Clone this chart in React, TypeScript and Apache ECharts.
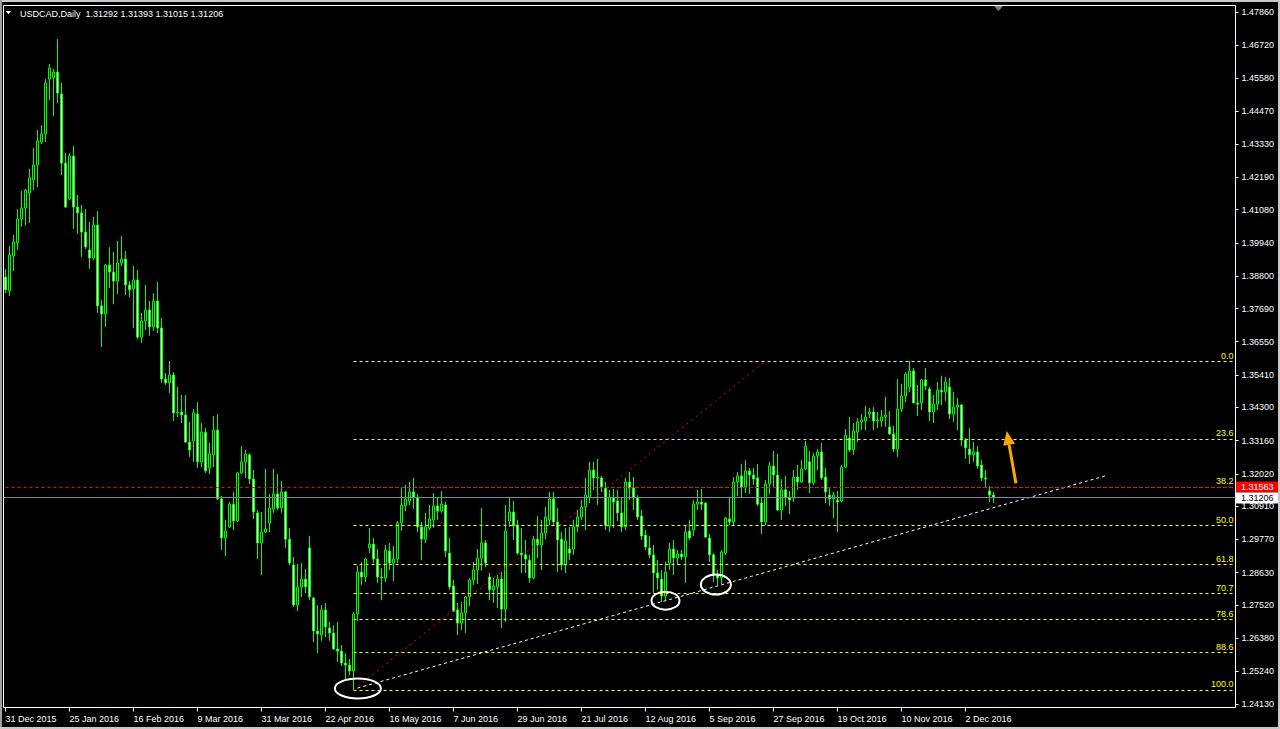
import React, { useEffect, useRef } from 'react';
import * as echarts from 'echarts';

// ---------- data ----------
const symbolTitle = 'USDCAD,Daily';

const xTickLabels = [
  '31 Dec 2015', '25 Jan 2016', '16 Feb 2016', '9 Mar 2016', '31 Mar 2016', '22 Apr 2016',
  '16 May 2016', '7 Jun 2016', '29 Jun 2016', '21 Jul 2016', '12 Aug 2016', '5 Sep 2016',
  '27 Sep 2016', '19 Oct 2016', '10 Nov 2016', '2 Dec 2016',
];
const barsPerTick = 16;

const yTickLabels = [
  '1.24130', '1.25240', '1.26380', '1.27520', '1.28630', '1.29770', '1.30910', '1.32020',
  '1.33160', '1.34300', '1.35410', '1.36550', '1.37690', '1.38800', '1.39940', '1.41080',
  '1.42190', '1.43330', '1.44470', '1.45580', '1.46720', '1.47860',
];

const opens = [
  1.3877, 1.3829, 1.3949, 1.3994, 1.4076, 1.4114, 1.4165, 1.4210, 1.4261, 1.4340,
  1.4368, 1.4556, 1.4560, 1.4580, 1.4505, 1.4268, 1.4145, 1.4292, 1.4117, 1.4097,
  1.4031, 1.3970, 1.3942, 1.4055, 1.3778, 1.3750, 1.3918, 1.3894, 1.3863, 1.3925,
  1.3939, 1.3850, 1.3836, 1.3867, 1.3671, 1.3726, 1.3764, 1.3706, 1.3795, 1.3702,
  1.3527, 1.3514, 1.3541, 1.3411, 1.3414, 1.3404, 1.3311, 1.3315, 1.3407, 1.3243,
  1.3345, 1.3222, 1.3267, 1.3352, 1.3116, 1.2982, 1.3020, 1.3098, 1.3040, 1.3205,
  1.3243, 1.3267, 1.3184, 1.3068, 1.2965, 1.3002, 1.3033, 1.3081, 1.3133, 1.3085,
  1.3140, 1.2978, 1.2889, 1.2752, 1.2814, 1.2841, 1.2948, 1.2776, 1.2663, 1.2649,
  1.2735, 1.2673, 1.2656, 1.2601, 1.2594, 1.2553, 1.2546, 1.2526, 1.2721, 1.2865,
  1.2848, 1.2948, 1.2961, 1.2910, 1.2848, 1.2845, 1.2937, 1.2896, 1.2910, 1.3033,
  1.3092, 1.3109, 1.3140, 1.3122, 1.3020, 1.2978, 1.3016, 1.3044, 1.3092, 1.3074,
  1.3095, 1.2930, 1.2817, 1.2735, 1.2690, 1.2725, 1.2780, 1.2838, 1.2872, 1.2913,
  1.2965, 1.2848, 1.2804, 1.2814, 1.2841, 1.2738, 1.3040, 1.3071, 1.3026, 1.2930,
  1.2924, 1.2906, 1.2845, 1.2978, 1.2958, 1.2999, 1.3044, 1.3116, 1.3037, 1.2978,
  1.2889, 1.2944, 1.2944, 1.3020, 1.3054, 1.3088, 1.3122, 1.3215, 1.3188, 1.3188,
  1.3153, 1.3023, 1.3122, 1.3109, 1.3068, 1.3020, 1.3174, 1.3153, 1.3119, 1.3057,
  1.2992, 1.2948, 1.2924, 1.2862, 1.2841, 1.2783, 1.2896, 1.2944, 1.2913, 1.2927,
  1.2917, 1.3006, 1.3009, 1.3098, 1.3105, 1.3102, 1.2982, 1.2924, 1.2855, 1.2845,
  1.2930, 1.3047, 1.3037, 1.3174, 1.3195, 1.3157, 1.3212, 1.3198, 1.3188, 1.3102,
  1.3037, 1.3167, 1.3229, 1.3198, 1.3078, 1.3147, 1.3122, 1.3119, 1.3191, 1.3174,
  1.3219, 1.3243, 1.3171, 1.3263, 1.3277, 1.3191, 1.3129, 1.3116, 1.3112, 1.3109,
  1.3225, 1.3325, 1.3284, 1.3345, 1.3380, 1.3383, 1.3407, 1.3414, 1.3383, 1.3383,
  1.3397, 1.3363, 1.3339, 1.3287, 1.3424, 1.3469, 1.3500, 1.3555, 1.3445, 1.3445,
  1.3524, 1.3493, 1.3414, 1.3441, 1.3489, 1.3483, 1.3500, 1.3407, 1.3431, 1.3438,
  1.3318, 1.3287, 1.3267, 1.3277, 1.3232, 1.3188, 1.3143, 1.31292,
];

const highs = [
  1.3905, 1.3983, 1.4021, 1.4110, 1.4172, 1.4179, 1.4248, 1.4320, 1.4381, 1.4398,
  1.4556, 1.4608, 1.4591, 1.4693, 1.4543, 1.4302, 1.4302, 1.4326, 1.4158, 1.4124,
  1.4110, 1.4066, 1.4083, 1.4103, 1.3798, 1.3922, 1.3980, 1.3963, 1.4001, 1.4018,
  1.3966, 1.3863, 1.3915, 1.3901, 1.3754, 1.3850, 1.3795, 1.3822, 1.3860, 1.3736,
  1.3548, 1.3589, 1.3551, 1.3500, 1.3472, 1.3472, 1.3380, 1.3424, 1.3448, 1.3376,
  1.3359, 1.3308, 1.3400, 1.3407, 1.3126, 1.3044, 1.3105, 1.3140, 1.3208, 1.3297,
  1.3284, 1.3273, 1.3215, 1.3078, 1.3071, 1.3219, 1.3133, 1.3219, 1.3201, 1.3177,
  1.3143, 1.3016, 1.2917, 1.2893, 1.2896, 1.2876, 1.2989, 1.2780, 1.2752, 1.2752,
  1.2759, 1.2694, 1.2683, 1.2694, 1.2615, 1.2587, 1.2567, 1.2728, 1.2886, 1.2900,
  1.2913, 1.3016, 1.2982, 1.2944, 1.2879, 1.2958, 1.2965, 1.2954, 1.3040, 1.3153,
  1.3164, 1.3174, 1.3188, 1.3133, 1.3037, 1.3068, 1.3095, 1.3136, 1.3119, 1.3143,
  1.3105, 1.2982, 1.2838, 1.2759, 1.2762, 1.2783, 1.2845, 1.2900, 1.2944, 1.3085,
  1.2975, 1.2862, 1.2845, 1.2855, 1.2865, 1.3095, 1.3119, 1.3109, 1.3044, 1.3016,
  1.2975, 1.2924, 1.2989, 1.3057, 1.3044, 1.3088, 1.3140, 1.3140, 1.3085, 1.3002,
  1.3016, 1.3020, 1.3044, 1.3078, 1.3112, 1.3188, 1.3243, 1.3243, 1.3253, 1.3195,
  1.3174, 1.3147, 1.3150, 1.3147, 1.3119, 1.3188, 1.3208, 1.3191, 1.3129, 1.3078,
  1.3009, 1.2989, 1.2958, 1.2906, 1.2872, 1.2900, 1.2965, 1.2975, 1.2941, 1.2941,
  1.3023, 1.3044, 1.3112, 1.3147, 1.3150, 1.3102, 1.2996, 1.2930, 1.2872, 1.2941,
  1.3054, 1.3122, 1.3191, 1.3208, 1.3236, 1.3249, 1.3222, 1.3222, 1.3236, 1.3122,
  1.3181, 1.3243, 1.3280, 1.3270, 1.3184, 1.3195, 1.3143, 1.3215, 1.3232, 1.3249,
  1.3315, 1.3280, 1.3273, 1.3287, 1.3308, 1.3222, 1.3153, 1.3140, 1.3143, 1.3232,
  1.3356, 1.3397, 1.3376, 1.3393, 1.3407, 1.3435, 1.3428, 1.3431, 1.3414, 1.3421,
  1.3466, 1.3417, 1.3366, 1.3527, 1.3510, 1.3551, 1.3589, 1.3565, 1.3507, 1.3527,
  1.3565, 1.3500, 1.3472, 1.3517, 1.3538, 1.3534, 1.3531, 1.3483, 1.3462, 1.3441,
  1.3325, 1.3359, 1.3311, 1.3297, 1.3249, 1.3215, 1.3160, 1.31393,
];

const lows = [
  1.3822, 1.3812, 1.3898, 1.3970, 1.4049, 1.4055, 1.4062, 1.4175, 1.4186, 1.4333,
  1.4340, 1.4484, 1.4429, 1.4474, 1.4227, 1.4114, 1.4141, 1.4042, 1.4025, 1.3946,
  1.3973, 1.3905, 1.3935, 1.3754, 1.3637, 1.3706, 1.3839, 1.3784, 1.3819, 1.3915,
  1.3815, 1.3808, 1.3702, 1.3664, 1.3651, 1.3695, 1.3675, 1.3692, 1.3685, 1.3514,
  1.3507, 1.3479, 1.3383, 1.3397, 1.3376, 1.3308, 1.3260, 1.3243, 1.3222, 1.3225,
  1.3205, 1.3201, 1.3225, 1.3112, 1.2941, 1.2920, 1.3016, 1.3009, 1.3037, 1.3201,
  1.3188, 1.3167, 1.3047, 1.2910, 1.2855, 1.2999, 1.3002, 1.3068, 1.3078, 1.3068,
  1.2948, 1.2889, 1.2745, 1.2731, 1.2780, 1.2793, 1.2769, 1.2625, 1.2587, 1.2629,
  1.2642, 1.2629, 1.2598, 1.2557, 1.2543, 1.2495, 1.2512, 1.2461, 1.2697, 1.2821,
  1.2831, 1.2930, 1.2896, 1.2828, 1.2769, 1.2831, 1.2872, 1.2834, 1.2896, 1.3006,
  1.3074, 1.3095, 1.3081, 1.3002, 1.2906, 1.2965, 1.3009, 1.3016, 1.3044, 1.3068,
  1.2917, 1.2804, 1.2728, 1.2649, 1.2666, 1.2656, 1.2749, 1.2821, 1.2824, 1.2869,
  1.2882, 1.2769, 1.2759, 1.2742, 1.2673, 1.2694, 1.3020, 1.2975, 1.2924, 1.2862,
  1.2862, 1.2828, 1.2841, 1.2913, 1.2872, 1.2978, 1.3026, 1.3026, 1.2865, 1.2872,
  1.2862, 1.2906, 1.2924, 1.3002, 1.3044, 1.3009, 1.3102, 1.3147, 1.3095, 1.3140,
  1.3009, 1.3002, 1.3016, 1.3040, 1.3002, 1.3009, 1.3112, 1.3078, 1.3044, 1.2975,
  1.2941, 1.2913, 1.2793, 1.2804, 1.2762, 1.2769, 1.2872, 1.2855, 1.2889, 1.2906,
  1.2828, 1.2975, 1.2989, 1.3078, 1.3078, 1.2982, 1.2900, 1.2831, 1.2821, 1.2824,
  1.2924, 1.3026, 1.3026, 1.3126, 1.3122, 1.3136, 1.3133, 1.3164, 1.3092, 1.2996,
  1.3026, 1.3133, 1.3157, 1.3074, 1.3044, 1.3092, 1.3064, 1.3105, 1.3147, 1.3171,
  1.3215, 1.3136, 1.3164, 1.3215, 1.3181, 1.3102, 1.3092, 1.3050, 1.3002, 1.3105,
  1.3222, 1.3277, 1.3267, 1.3311, 1.3352, 1.3352, 1.3393, 1.3352, 1.3359, 1.3363,
  1.3363, 1.3335, 1.3277, 1.3260, 1.3414, 1.3448, 1.3483, 1.3445, 1.3400, 1.3421,
  1.3489, 1.3383, 1.3376, 1.3421, 1.3438, 1.3452, 1.3390, 1.3380, 1.3352, 1.3297,
  1.3253, 1.3236, 1.3243, 1.3219, 1.3177, 1.3153, 1.3105, 1.31015,
];

const closes = [
  1.3833, 1.3953, 1.3997, 1.4076, 1.4114, 1.4175, 1.4217, 1.4261, 1.4344, 1.4368,
  1.4543, 1.4594, 1.4580, 1.4508, 1.4268, 1.4117, 1.4292, 1.4117, 1.4097, 1.4031,
  1.3980, 1.3942, 1.4055, 1.3778, 1.3750, 1.3918, 1.3894, 1.3863, 1.3925, 1.3939,
  1.3850, 1.3833, 1.3867, 1.3671, 1.3726, 1.3764, 1.3706, 1.3795, 1.3702, 1.3527,
  1.3514, 1.3541, 1.3411, 1.3414, 1.3404, 1.3311, 1.3284, 1.3411, 1.3243, 1.3345,
  1.3212, 1.3270, 1.3352, 1.3116, 1.2982, 1.3006, 1.3098, 1.3040, 1.3205, 1.3243,
  1.3270, 1.3184, 1.3071, 1.2965, 1.3002, 1.3013, 1.3085, 1.3133, 1.3085, 1.3140,
  1.2978, 1.2896, 1.2752, 1.2814, 1.2841, 1.2814, 1.2780, 1.2663, 1.2653, 1.2735,
  1.2677, 1.2656, 1.2601, 1.2594, 1.2553, 1.2546, 1.2526, 1.2721, 1.2865, 1.2848,
  1.2910, 1.2961, 1.2910, 1.2848, 1.2845, 1.2941, 1.2896, 1.2910, 1.3033, 1.3095,
  1.3116, 1.3140, 1.3122, 1.3020, 1.2978, 1.3020, 1.3047, 1.3092, 1.3074, 1.3098,
  1.2937, 1.2814, 1.2731, 1.2690, 1.2725, 1.2780, 1.2838, 1.2872, 1.2913, 1.2965,
  1.2896, 1.2804, 1.2817, 1.2841, 1.2738, 1.3006, 1.3071, 1.3023, 1.2930, 1.2924,
  1.2910, 1.2845, 1.2978, 1.2958, 1.2999, 1.3054, 1.3116, 1.3037, 1.2975, 1.2889,
  1.2972, 1.2930, 1.3020, 1.3054, 1.3088, 1.3129, 1.3215, 1.3188, 1.3191, 1.3157,
  1.3026, 1.3122, 1.3105, 1.3068, 1.3020, 1.3174, 1.3153, 1.3119, 1.3054, 1.2989,
  1.2951, 1.2924, 1.2862, 1.2845, 1.2783, 1.2865, 1.2944, 1.2913, 1.2927, 1.2917,
  1.3002, 1.2982, 1.3098, 1.3105, 1.3098, 1.2985, 1.2924, 1.2855, 1.2845, 1.2934,
  1.3050, 1.3037, 1.3174, 1.3195, 1.3157, 1.3212, 1.3198, 1.3184, 1.3098, 1.3037,
  1.3167, 1.3229, 1.3198, 1.3078, 1.3147, 1.3122, 1.3112, 1.3191, 1.3174, 1.3219,
  1.3297, 1.3171, 1.3263, 1.3277, 1.3188, 1.3140, 1.3116, 1.3129, 1.3105, 1.3225,
  1.3335, 1.3284, 1.3349, 1.3380, 1.3387, 1.3397, 1.3414, 1.3383, 1.3387, 1.3397,
  1.3404, 1.3339, 1.3287, 1.3424, 1.3469, 1.3544, 1.3555, 1.3445, 1.3441, 1.3524,
  1.3503, 1.3414, 1.3441, 1.3489, 1.3483, 1.3517, 1.3407, 1.3431, 1.3438, 1.3318,
  1.3291, 1.3267, 1.3277, 1.3229, 1.3188, 1.3184, 1.3129, 1.31206,
];

// Fibonacci retracement object
const fibLevels = [0, 23.6, 38.2, 50, 61.8, 70.7, 78.6, 88.6, 100];
const fibHighPrice = 1.3588;
const fibLowPrice = 1.2461;
const fibStartBar = 87;
const fibDiagonalEndBar = 190;

// trend line
const trendStart = [88, 1.2467];
const trendEnd = [275, 1.3195];

// horizontal line
const redLinePrice = 1.31563;

// circled lows [bar, price]
const circledPoints = [[88.1, 1.2466], [165, 1.2767], [177.6, 1.2822]];
// arrow [bar, price]
const arrowTail = [252.6, 1.3170];
const arrowTip = [250.3, 1.3349];

// ---------- layout ----------
const TOTAL_SLOTS = 308;
const Y_MIN = 1.24005;
const Y_MAX = 1.48083;
const FONT = '"Liberation Sans", Arial, sans-serif';

const App: React.FC = () => {
  const ref = useRef<HTMLDivElement>(null);

  useEffect(() => {
    document.body.style.margin = '0';
    if (!ref.current) return;
    const chart = echarts.init(ref.current, undefined, { renderer: 'svg' });

    const n = opens.length;
    const categories = Array.from({ length: TOTAL_SLOTS }, (_, i) => String(i));
    const candleData = opens.map((o, i) => [o, closes[i], lows[i], highs[i]]);
    const yTickValues = yTickLabels.map((s) => parseFloat(s));
    const showTick = (idx: number) => idx % barsPerTick === 0 && idx < n;
    const bidPrice = closes[n - 1];

    const fibPrice = (lvl: number) => fibHighPrice - ((fibHighPrice - fibLowPrice) * lvl) / 100;

    const markLineData: any[] = [];
    fibLevels.forEach((lvl) => {
      const p = fibPrice(lvl);
      markLineData.push([
        {
          coord: [fibStartBar, p],
          lineStyle: { color: '#ffff00', type: [3, 3], width: 1 },
          label: {
            show: true,
            position: 'insideEndTop',
            formatter: lvl.toFixed(1),
            color: '#ffff00',
            fontSize: 9,
            fontFamily: FONT,
            distance: [0, 1],
          },
        },
        { coord: [TOTAL_SLOTS - 1, p] },
      ]);
    });
    markLineData.push([
      { coord: [fibStartBar, fibLowPrice], lineStyle: { color: '#ff0000', type: [2, 4], width: 1 } },
      { coord: [fibDiagonalEndBar, fibHighPrice] },
    ]);
    markLineData.push([
      { coord: trendStart, lineStyle: { color: '#ffffff', type: [3, 3], width: 1 } },
      { coord: trendEnd },
    ]);
    markLineData.push({
      yAxis: redLinePrice,
      lineStyle: { color: '#ff0000', type: [3, 3], dashOffset: 4, width: 1.2 },
    });
    markLineData.push({ yAxis: bidPrice, lineStyle: { color: '#778899', type: 'solid', width: 1 } });

    const option: any = {
      animation: false,
      backgroundColor: '#000000',
      grid: {
        left: 3.5,
        right: 44.5,
        top: 5.5,
        bottom: 21.5,
        show: true,
        borderColor: '#ffffff',
        borderWidth: 1,
        backgroundColor: 'transparent',
      },
      xAxis: {
        type: 'category',
        data: categories,
        boundaryGap: true,
        axisLine: { show: false },
        axisTick: {
          show: true,
          alignWithLabel: true,
          interval: (idx: number) => showTick(idx),
          length: 4,
          lineStyle: { color: '#ffffff' },
        },
        axisLabel: {
          interval: (idx: number) => showTick(idx),
          formatter: (_v: string, idx: number) =>
            idx % barsPerTick === 0 ? xTickLabels[idx / barsPerTick] || '' : '',
          color: '#ffffff',
          fontSize: 9,
          fontFamily: FONT,
          align: 'left',
          margin: 7,
        },
        splitLine: { show: false },
      },
      yAxis: {
        type: 'value',
        position: 'right',
        min: Y_MIN,
        max: Y_MAX,
        axisLine: { show: false },
        axisTick: {
          show: true,
          length: 3,
          customValues: yTickValues,
          lineStyle: { color: '#ffffff' },
        },
        axisLabel: {
          customValues: yTickValues,
          formatter: (v: number) => v.toFixed(5),
          color: '#ffffff',
          fontSize: 9,
          fontFamily: FONT,
          margin: 6,
        },
        splitLine: { show: false },
      },
      series: [
        {
          type: 'candlestick',
          data: candleData,
          barWidth: 2,
          itemStyle: {
            color: '#000000',
            color0: '#ffffff',
            borderColor: '#00ff00',
            borderColor0: '#00ff00',
            borderWidth: 1,
          },
          markLine: {
            silent: true,
            symbol: ['none', 'none'],
            precision: 5,
            animation: false,
            label: { show: false },
            emphasis: { disabled: true },
            data: markLineData,
          },
        },
      ],
    };

    chart.setOption(option);

    // annotations positioned through the chart's own scales
    const px = (bar: number, price: number) => {
      const a = chart.convertToPixel({ xAxisIndex: 0, yAxisIndex: 0 }, [0, price]) as number[];
      const b = chart.convertToPixel({ xAxisIndex: 0, yAxisIndex: 0 }, [1, price]) as number[];
      return [a[0] + bar * (b[0] - a[0]), a[1]];
    };

    const ellipseSizes = [[23, 10], [14, 9], [15, 10]];
    const graphics: any[] = [];

    // window frame
    graphics.push({ type: 'rect', shape: { x: 0, y: 0, width: 1280, height: 2 }, style: { fill: '#c8c8c8' } });
    graphics.push({ type: 'rect', shape: { x: 0, y: 0, width: 2, height: 729 }, style: { fill: '#a0a0a0' } });
    graphics.push({ type: 'rect', shape: { x: 1278, y: 0, width: 2, height: 729 }, style: { fill: '#c8c8c8' } });
    graphics.push({ type: 'rect', shape: { x: 0, y: 727, width: 1280, height: 2 }, style: { fill: '#c8c8c8' } });

    circledPoints.forEach((pt, i) => {
      const [cx, cy] = px(pt[0], pt[1]);
      graphics.push({
        type: 'ellipse',
        shape: { cx, cy, rx: ellipseSizes[i][0], ry: ellipseSizes[i][1] },
        style: { fill: 'none', stroke: '#ffffff', lineWidth: 2 },
        z: 100,
      });
    });

    // arrow
    const [tx, ty] = px(arrowTail[0], arrowTail[1]);
    const [hx, hy] = px(arrowTip[0], arrowTip[1]);
    const dx = hx - tx;
    const dy = hy - ty;
    const len = Math.sqrt(dx * dx + dy * dy);
    const ux = dx / len;
    const uy = dy / len;
    const headLen = 14;
    const headHalf = 6;
    const bx = hx - ux * headLen;
    const by = hy - uy * headLen;
    graphics.push({
      type: 'line',
      shape: { x1: tx, y1: ty, x2: bx, y2: by },
      style: { stroke: '#ffa500', lineWidth: 3 },
      z: 100,
    });
    graphics.push({
      type: 'polygon',
      shape: {
        points: [
          [hx, hy],
          [bx - uy * headHalf, by + ux * headHalf],
          [bx + uy * headHalf, by - ux * headHalf],
        ],
      },
      style: { fill: '#ffa500' },
      z: 100,
    });

    // price labels on the axis
    const [, ry] = px(0, redLinePrice);
    const [, by2] = px(0, bidPrice);
    graphics.push({ type: 'rect', shape: { x: 1236, y: Math.round(ry) - 5.5, width: 42, height: 11 }, style: { fill: '#ff0000' }, z: 100 });
    graphics.push({
      type: 'text',
      x: 1241,
      y: Math.round(ry),
      style: { text: redLinePrice.toFixed(5), fill: '#ffffff', fontSize: 9, fontFamily: FONT, verticalAlign: 'middle' },
      z: 101,
    });
    graphics.push({ type: 'rect', shape: { x: 1236, y: Math.round(by2) - 5.5, width: 42, height: 11 }, style: { fill: '#ffffff' }, z: 100 });
    graphics.push({
      type: 'text',
      x: 1241,
      y: Math.round(by2),
      style: { text: bidPrice.toFixed(5), fill: '#000000', fontSize: 9, fontFamily: FONT, verticalAlign: 'middle' },
      z: 101,
    });

    // header
    graphics.push({
      type: 'polygon',
      shape: { points: [[6, 11], [11, 11], [8.5, 14.5]] },
      style: { fill: '#ffffff' },
      z: 100,
    });
    graphics.push({
      type: 'text',
      x: 20,
      y: 13.5,
      style: {
        text: `${symbolTitle}  ${opens[n - 1].toFixed(5)} ${highs[n - 1].toFixed(5)} ${lows[n - 1].toFixed(5)} ${closes[n - 1].toFixed(5)}`,
        fill: '#ffffff',
        fontSize: 9,
        fontFamily: FONT,
        verticalAlign: 'middle',
      },
      z: 100,
    });

    // chart shift marker
    graphics.push({
      type: 'polygon',
      shape: { points: [[994, 6], [1003, 6], [998.5, 11]] },
      style: { fill: '#808080' },
      z: 100,
    });

    chart.setOption({ graphic: graphics });

    return () => chart.dispose();
  }, []);

  return (
    <div
      ref={ref}
      style={{ position: 'absolute', left: 0, top: 0, width: 1280, height: 729, background: '#000' }}
    />
  );
};

export default App;
